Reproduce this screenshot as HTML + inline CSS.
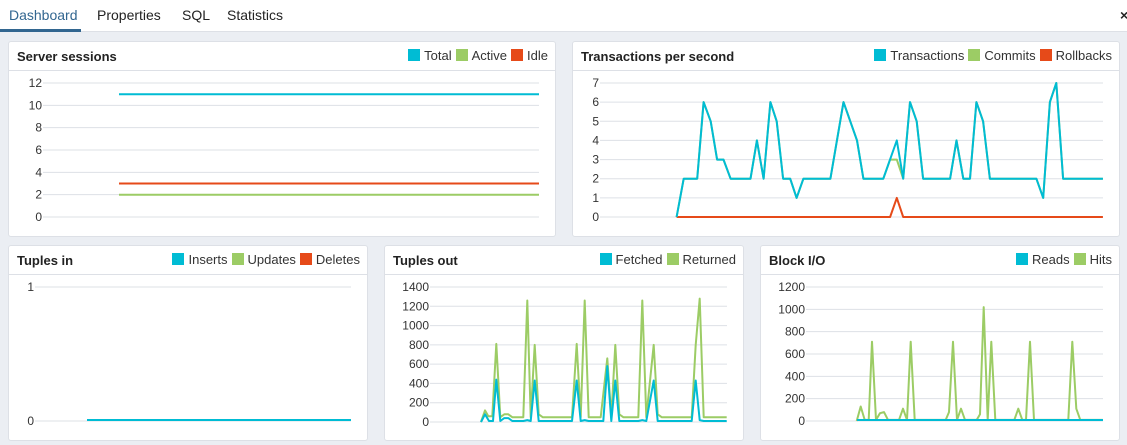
<!DOCTYPE html>
<html><head><meta charset="utf-8"><style>
*{margin:0;padding:0;box-sizing:border-box}
body{width:1127px;height:445px;background:#ebeef3;font-family:"Liberation Sans",sans-serif;position:relative;overflow:hidden}
.tabs{position:absolute;left:0;top:0;width:1127px;height:32px;background:#fff;border-bottom:1px solid #dde0e6}
.tab{position:absolute;top:7px;font-size:14px;color:#222}
.act{color:#326690}
.ul{position:absolute;left:0;top:29px;width:81px;height:3px;background:#326690}
.panel{position:absolute;background:#fff;border:1px solid #dde0e6;border-radius:3px}
.hd{position:absolute;left:0;top:0;right:0;height:29px;border-bottom:1px solid #dde0e6}
.t{position:absolute;left:8px;top:7px;font-weight:bold;font-size:13px;color:#222}
.lg{position:absolute;right:7px;top:6px;font-size:13px;color:#333;white-space:nowrap}
.lg i{display:inline-block;width:12px;height:12px;vertical-align:-1px;margin:0 4px 0 4px}
svg{position:absolute;left:0;top:0}
svg text{font-family:"Liberation Sans",sans-serif;font-size:12px;fill:#333}
</style></head><body>
<div class="tabs"><span class="tab act" style="left:9px">Dashboard</span><span class="tab" style="left:97px">Properties</span><span class="tab" style="left:182px">SQL</span><span class="tab" style="left:227px">Statistics</span><div class="ul"></div><span class="tab" style="left:1120px;font-weight:bold">×</span></div>

<div class="panel" style="left:8px;top:41px;width:548px;height:196px"><div class="hd"><span class="t">Server sessions</span><span class="lg"><i style="background:#00bcd4"></i>Total<i style="background:#9ccc65"></i>Active<i style="background:#e64a19"></i>Idle</span></div></div>
<div class="panel" style="left:572px;top:41px;width:548px;height:196px"><div class="hd"><span class="t">Transactions per second</span><span class="lg"><i style="background:#00bcd4"></i>Transactions<i style="background:#9ccc65"></i>Commits<i style="background:#e64a19"></i>Rollbacks</span></div></div>
<div class="panel" style="left:8px;top:245px;width:360px;height:196px"><div class="hd"><span class="t">Tuples in</span><span class="lg"><i style="background:#00bcd4"></i>Inserts<i style="background:#9ccc65"></i>Updates<i style="background:#e64a19"></i>Deletes</span></div></div>
<div class="panel" style="left:384px;top:245px;width:360px;height:196px"><div class="hd"><span class="t">Tuples out</span><span class="lg"><i style="background:#00bcd4"></i>Fetched<i style="background:#9ccc65"></i>Returned</span></div></div>
<div class="panel" style="left:760px;top:245px;width:360px;height:196px"><div class="hd"><span class="t">Block I/O</span><span class="lg"><i style="background:#00bcd4"></i>Reads<i style="background:#9ccc65"></i>Hits</span></div></div>

<svg id="s" width="1127" height="445"></svg>
<script>
var s=document.getElementById('s'),h='';
function axis(x0,x1,yTop,yBot,ticks){var n=ticks.length-1;for(var i=0;i<=n;i++){var y=yBot-(yBot-yTop)*i/n;h+='<line x1="'+(x0-2)+'" x2="'+x1+'" y1="'+y+'" y2="'+y+'" stroke="#dde0e6"/>';h+='<text x="'+(x0-3)+'" y="'+(y+4)+'" text-anchor="end">'+ticks[i]+'</text>';}}
function line(pts,c,w){h+='<polyline fill="none" stroke="'+c+'" stroke-width="'+(w||2)+'" stroke-linejoin="round" points="'+pts.map(function(p){return p[0].toFixed(1)+','+p[1].toFixed(1)}).join(' ')+'"/>';}
function map(arr,ox,sc,yBot,yPer){return arr.map(function(p){return [ox+p[0]/sc,yBot-p[1]*yPer]});}
// chart1
axis(45,539,83,217,[0,2,4,6,8,10,12]);
var yp=134/12;
line([[119,217-3*yp],[539,217-3*yp]],'#e64a19');
line([[119,217-2*yp],[539,217-2*yp]],'#9ccc65');
line([[119,217-11*yp],[539,217-11*yp]],'#00bcd4');
// chart2
axis(602,1103,83,217,[0,1,2,3,4,5,6,7]);
var T=[[300,0],[320,2],[358,2],[376,6],[396,5],[414,3],[432,3],[452,2],[508,2],[526,4],[545,2],[564,6],[582,5],[600,2],[620,2],[638,1],[657,2],[733,2],[770,6],[808,4],[826,2],[882,2],[920,4],[938,2],[957,6],[976,5],[994,2],[1070,2],[1088,4],[1107,2],[1126,2],[1144,6],[1163,5],[1182,2],[1313,2],[1332,1],[1351,6],[1369,7],[1388,2],[1500,2]];
var C=[[300,0],[320,2],[358,2],[376,6],[396,5],[414,3],[432,3],[452,2],[508,2],[526,4],[545,2],[564,6],[582,5],[600,2],[620,2],[638,1],[657,2],[733,2],[770,6],[808,4],[826,2],[882,2],[901,3],[920,3],[938,2],[957,6],[976,5],[994,2],[1070,2],[1088,4],[1107,2],[1126,2],[1144,6],[1163,5],[1182,2],[1313,2],[1332,1],[1351,6],[1369,7],[1388,2],[1500,2]];
var R=[[300,0],[901,0],[920,1],[938,0],[1500,0]];
var yp2=134/7;
line(map(R,570,2.815,217,yp2),'#e64a19');
line(map(C,570,2.815,217,yp2),'#9ccc65');
line(map(T,570,2.815,217,yp2),'#00bcd4');
// tuples in
axis(37,351,287,421,[0,1]);
line([[87,420],[351,420]],'#00bcd4');
// tuples out
axis(432,727,287,422,[0,200,400,600,800,1000,1200,1400]);
var yp4=135/1400;
var Rt=[[303,0],[315,120],[325,60],[337,60],[349,810],[361,50],[373,80],[385,80],[397,50],[430,50],[442,1260],[452,50],[464,800],[476,80],[488,50],[576,50],[590,810],[602,50],[614,1260],[626,50],[662,50],[682,660],[694,50],[706,800],[718,80],[730,50],[775,50],[787,1260],[799,50],[821,800],[833,80],[845,50],[935,50],[947,800],[959,1280],[971,50],[1040,50]];
var Ft=[[303,0],[315,80],[327,10],[339,10],[349,440],[361,10],[373,40],[385,40],[397,10],[430,10],[442,20],[452,10],[464,430],[476,10],[576,10],[590,430],[602,10],[614,20],[626,10],[670,10],[682,580],[694,10],[706,430],[718,10],[775,10],[787,20],[799,10],[821,430],[833,10],[935,10],[947,430],[959,20],[971,10],[1040,10]];
line(map(Rt,380,3,422,yp4),'#9ccc65');
line(map(Ft,380,3,422,yp4),'#00bcd4');
// block io
axis(808,1103,287,421,[0,200,400,600,800,1000,1200]);
var yp5=134/1200;
var H=[[305,0],[317,130],[329,10],[341,10],[351,710],[363,10],[375,70],[387,80],[399,10],[432,10],[444,110],[456,10],[467,710],[479,10],[572,10],[582,80],[594,710],[606,10],[618,110],[630,10],[665,10],[675,60],[686,1020],[698,10],[709,710],[721,10],[778,10],[790,110],[802,10],[813,10],[825,710],[837,10],[940,10],[952,710],[964,110],[976,10],[1043,10]];
line(map(H,755,3,421,yp5),'#9ccc65');
line([[857,420],[1103,420]],'#00bcd4');
s.innerHTML=h;
</script>
</body></html>
